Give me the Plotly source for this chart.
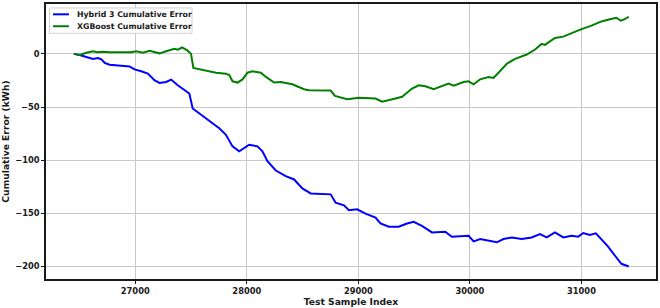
import plotly.graph_objects as go

# Hybrid 3 cumulative error
hybrid_x = [26449, 26502, 26562, 26621, 26666, 26696, 26726, 26770, 26949, 26994,
            27054, 27113, 27172, 27217, 27277, 27322, 27381, 27441, 27485, 27515,
            27575, 27635, 27694, 27753, 27813, 27872, 27932, 28021, 28096, 28140,
            28185, 28260, 28349, 28424, 28498, 28573, 28752, 28796, 28871, 28915,
            28989, 29064, 29154, 29198, 29273, 29362, 29436, 29496, 29570, 29660,
            29779, 29838, 29988, 30033, 30092, 30182, 30241, 30301, 30375, 30464,
            30553, 30628, 30688, 30762, 30837, 30911, 30971, 31016, 31075, 31129,
            31179, 31239, 31299, 31358, 31424]
hybrid_y = [0, -1, -3, -4.7, -4, -5.2, -8.4, -10.2, -11.8, -14.6,
            -16.4, -18.6, -24.8, -27.3, -26.4, -24.2, -29.5, -34.2, -37.3, -51.3,
            -56, -61.2, -66.2, -70, -76.1, -87, -91.7, -85.4, -87, -91.7,
            -101, -109.7, -115, -118.1, -126.5, -131.2, -132.1, -139.9, -142.4, -147,
            -146.1, -150.2, -153.9, -159.5, -162.6, -162.6, -159.5, -157.9, -161.7, -167.9,
            -167.3, -171.9, -171, -176.3, -174.1, -175.7, -177.2, -174.1, -172.6, -174.1,
            -172.6, -169.4, -172.6, -167.9, -172.6, -171, -171.9, -168.5, -170.3, -168.8,
            -174.1, -181.3, -189.6, -197.4, -199.9]

# XGBoost cumulative error
xgb_x = [26449, 26502, 26562, 26621, 26660, 26710, 26770, 26964, 27009, 27068,
         27128, 27170, 27217, 27277, 27351, 27381, 27420, 27470, 27500, 27521,
         27575, 27635, 27724, 27813, 27843, 27872, 27917, 27962, 28006, 28051,
         28126, 28171, 28245, 28305, 28408, 28513, 28558, 28752, 28790, 28900,
         29005, 29154, 29213, 29333, 29392, 29481, 29541, 29601, 29675, 29809,
         29854, 29943, 29988, 30033, 30092, 30166, 30211, 30256, 30330, 30405,
         30509, 30584, 30643, 30673, 30762, 30837, 30911, 31000, 31090, 31179,
         31254, 31313, 31352, 31388, 31424]
xgb_y = [0, -1, 1, 2.5, 1.5, 2, 1.5, 1.5, 2.5, 1,
         3, 1.5, 0.5, 2.5, 4.7, 4, 6, 3, 0, -13.3,
         -14.6, -16, -17.7, -18.6, -20, -25.8, -27, -24, -17.7, -16.4,
         -17.7, -21.7, -27, -26.4, -28.6, -33.2, -34.2, -34.5, -39.5, -42.6,
         -41.3, -42, -45, -42, -40.4, -32.6, -29.5, -30.4, -33.2, -28,
         -30, -26.4, -25.8, -28.6, -23.9, -21.7, -22.7, -17.7, -9.3, -4.7,
         -0.6, 4.1, 9.3, 8.4, 15, 16.2, 19.6, 23.3, 26.5, 30.5,
         32.6, 34, 31.2, 32.6, 34.9]

series_names = ["Hybrid 3 Cumulative Error", "XGBoost Cumulative Error"]
series_colors = ["#0000ff", "#008000"]

x_ticks = [27000, 28000, 29000, 30000, 31000]
y_ticks = [-200, -150, -100, -50, 0]

W, H = 660, 308
ML, MR, MT, MB = 46, 2, 2, 29
PW, PH = W - ML - MR, H - MT - MB

fig = go.Figure()
fig.add_trace(go.Scatter(x=hybrid_x, y=hybrid_y, mode="lines",
                         name=series_names[0], showlegend=False,
                         line=dict(color=series_colors[0], width=2)))
fig.add_trace(go.Scatter(x=xgb_x, y=xgb_y, mode="lines",
                         name=series_names[1], showlegend=False,
                         line=dict(color=series_colors[1], width=2)))

font_family = "DejaVu Sans"
dark = "#1a1a1a"
axis_common = dict(
    showgrid=True, gridcolor="#c8c8c8", gridwidth=1,
    showline=True, linecolor=dark, linewidth=1.5, mirror=True,
    ticks="outside", ticklen=3, tickwidth=1, tickcolor=dark,
    zeroline=False,
    tickfont=dict(family=font_family, size=8.3, color=dark, weight="bold"),
)


# pixel -> paper helpers for the legend box (decoration only)
def px(xp):
    return (xp - ML) / PW


def py(yp):
    return 1 - (yp - MT) / PH


shapes = [dict(type="rect", xref="paper", yref="paper",
               x0=px(49.5), x1=px(192.5), y0=py(31.5), y1=py(6),
               line=dict(color="#d0d0d0", width=1), fillcolor="rgba(255,255,255,0.85)",
               layer="above")]
annotations = []
row_y = [12.4, 24.4]
for name, color, yy in zip(series_names, series_colors, row_y):
    shapes.append(dict(type="line", xref="paper", yref="paper",
                       x0=px(53), x1=px(69), y0=py(yy), y1=py(yy),
                       line=dict(color=color, width=2), layer="above"))
    annotations.append(dict(text=name, xref="paper", yref="paper",
                            x=px(75), y=py(yy), xanchor="left", yanchor="middle",
                            showarrow=False,
                            font=dict(family=font_family, size=7.8, color=dark, weight="bold")))

fig.update_layout(
    width=W, height=H,
    margin=dict(l=ML, r=MR, t=MT, b=MB),
    paper_bgcolor="white", plot_bgcolor="white",
    font=dict(family=font_family, color=dark),
    showlegend=False,
    shapes=shapes, annotations=annotations,
    xaxis=dict(range=[26200, 31668], tickvals=x_ticks, tickformat="d",
               title=dict(text="Test Sample Index", standoff=3,
                          font=dict(family=font_family, size=9.2, color=dark, weight="bold")),
               **axis_common),
    yaxis=dict(range=[-211.7, 46.9], tickvals=y_ticks, tickformat="d",
               title=dict(text="Cumulative Error (kWh)", standoff=4,
                          font=dict(family=font_family, size=9.2, color=dark, weight="bold")),
               **axis_common),
)

fig.write_html("out.html")
